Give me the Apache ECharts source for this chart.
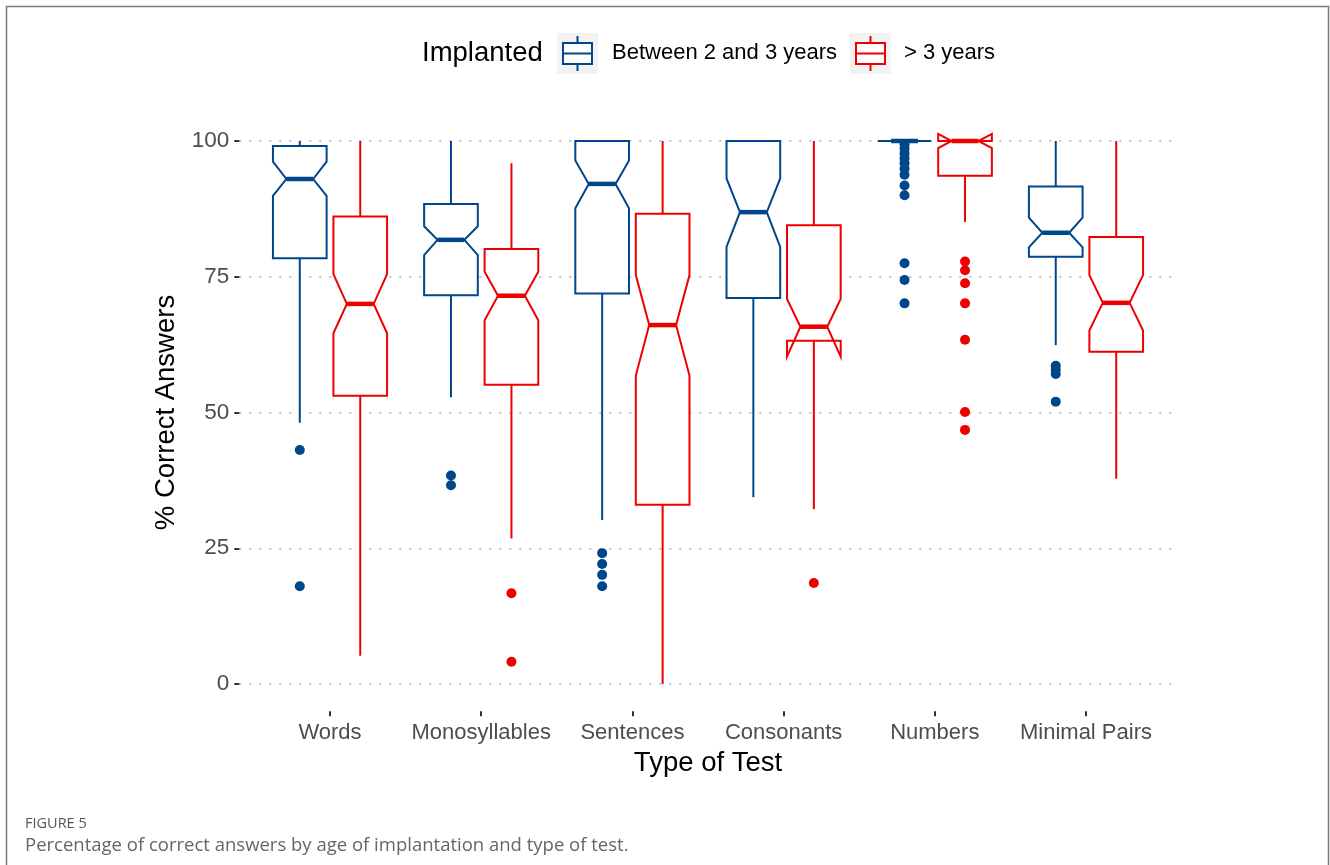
<!DOCTYPE html>
<html>
<head>
<meta charset="utf-8">
<script src="https://cdn.jsdelivr.net/npm/echarts@6/dist/echarts.min.js"></script>
<style>
  html, body { margin: 0; padding: 0; background: #ffffff; }
  #chart { width: 1330px; height: 865px; }
</style>
</head>
<body>
<div id="chart"></div>
<script>
// ---- data ---------------------------------------------------------------
const categories = ['Words', 'Monosyllables', 'Sentences', 'Consonants', 'Numbers', 'Minimal Pairs'];
const groupNames = ['Between 2 and 3 years', '> 3 years'];
const yTicks = [0, 25, 50, 75, 100];

// Implanted between 2 and 3 years
const earlyWhiskerLow  = [48.1, 52.8, 30.2, 34.4, 100, 62.4];
const earlyQ1          = [78.4, 71.6, 71.9, 71.1, 100, 78.7];
const earlyMedian      = [93.0, 81.8, 92.1, 86.9, 100, 83.1];
const earlyQ3          = [99.1, 88.4, 100, 100, 100, 91.6];
const earlyWhiskerHigh = [100, 100, 100, 100, 100, 100];
const earlyNotchLow    = [89.9, 79.0, 87.6, 80.5, 100, 80.4];
const earlyNotchHigh   = [96.2, 84.3, 96.4, 93.1, 100, 85.9];
const earlyOutliers = [
  [43.1, 18.0],
  [38.4, 36.6],
  [24.1, 22.1, 20.1, 18.0],
  [],
  [99.4, 98.6, 97.7, 96.8, 95.9, 94.9, 93.8, 91.8, 90.0, 77.5, 74.4, 70.1],
  [58.6, 57.9, 57.1, 52.0]
];

// Implanted after 3 years
const lateWhiskerLow  = [5.2, 26.8, 0, 32.2, 85.1, 37.8];
const lateQ1          = [53.1, 55.1, 33.0, 63.2, 93.6, 61.2];
const lateMedian      = [70.0, 71.5, 66.1, 65.8, 100, 70.2];
const lateQ3          = [86.1, 80.1, 86.6, 84.5, 100, 82.3];
const lateWhiskerHigh = [100, 95.9, 100, 100, 100, 100];
const lateNotchLow    = [64.6, 67.0, 56.8, 60.3, 98.7, 65.1];
const lateNotchHigh   = [75.5, 75.9, 75.3, 70.9, 101.3, 75.3];
const lateOutliers = [
  [],
  [16.7, 4.1],
  [],
  [18.6],
  [77.8, 76.2, 73.8, 70.1, 63.4, 50.1, 46.8],
  []
];

// ---- drawing settings ---------------------------------------------------
const BLUE = '#00468B';
const RED = '#ED0000';
const DODGE = 0.2;        // horizontal shift of each group from the category centre
const BOX_WIDTH = 0.355;  // box width in category units
const NOTCH_INSET = 0.25; // notch depth as a share of box width (each side)
const FONT = '"Liberation Sans", Arial, sans-serif';
const CAPTION_FONT = '"Open Sans", sans-serif';

function boxRows(wl, q1, med, q3, wh, nl, nh) {
  return categories.map((c, i) => [i + 1, wl[i], q1[i], med[i], q3[i], wh[i], nl[i], nh[i]]);
}

function outlierPoints(list, offset) {
  const pts = [];
  list.forEach((vals, i) => vals.forEach(v => pts.push([i + 1 + offset, v])));
  return pts;
}

function notchedBox(offset, color) {
  return function (params, api) {
    const x = api.value(0) + offset;
    const wl = api.value(1), q1 = api.value(2), med = api.value(3), q3 = api.value(4);
    const wh = api.value(5), nl = api.value(6), nh = api.value(7);
    const L = api.coord([x - BOX_WIDTH / 2, 0])[0];
    const R = api.coord([x + BOX_WIDTH / 2, 0])[0];
    const C = api.coord([x, 0])[0];
    const inset = (R - L) * NOTCH_INSET;
    const y = v => api.coord([x, v])[1];
    const line = { stroke: color, lineWidth: 2 };
    const children = [];
    if (wh > q3) children.push({ type: 'line', shape: { x1: C, y1: y(q3), x2: C, y2: y(wh) }, style: line });
    if (wl < q1) children.push({ type: 'line', shape: { x1: C, y1: y(q1), x2: C, y2: y(wl) }, style: line });
    children.push({
      type: 'polygon',
      shape: {
        points: [
          [L, y(q3)], [L, y(nh)], [L + inset, y(med)], [L, y(nl)], [L, y(q1)],
          [R, y(q1)], [R, y(nl)], [R - inset, y(med)], [R, y(nh)], [R, y(q3)]
        ]
      },
      style: { fill: '#ffffff', stroke: color, lineWidth: 2, lineJoin: 'miter' }
    });
    children.push({
      type: 'line',
      shape: { x1: L + inset, y1: y(med), x2: R - inset, y2: y(med) },
      style: { stroke: color, lineWidth: 4.5 }
    });
    return { type: 'group', children };
  };
}

// ---- legend & frame graphics -------------------------------------------
function legendKey(x, color) {
  const cx = x + 20.5;
  return [
    { type: 'rect', shape: { x: x, y: 33, width: 41, height: 41 }, style: { fill: '#f2f2f2' } },
    { type: 'line', shape: { x1: cx, y1: 36, x2: cx, y2: 43 }, style: { stroke: color, lineWidth: 2 } },
    { type: 'line', shape: { x1: cx, y1: 64, x2: cx, y2: 71 }, style: { stroke: color, lineWidth: 2 } },
    { type: 'rect', shape: { x: x + 6, y: 43, width: 29, height: 21 }, style: { fill: '#ffffff', stroke: color, lineWidth: 2 } },
    { type: 'line', shape: { x1: x + 6, y1: 53.5, x2: x + 35, y2: 53.5 }, style: { stroke: color, lineWidth: 2 } }
  ];
}

const chart = echarts.init(document.getElementById('chart'), null, { renderer: 'canvas' });

chart.setOption({
  backgroundColor: '#ffffff',
  animation: false,
  // panel spans x 0.4..6.6 and y -5..105 (data range plus padding)
  grid: { left: 239.3, right: 153.3, top: 113.85, bottom: 153.85, containLabel: false },
  xAxis: {
    type: 'value',
    min: 0.4,
    max: 6.6,
    name: 'Type of Test',
    nameLocation: 'middle',
    nameGap: 37,
    nameTextStyle: { fontSize: 27.5, color: '#000000', fontFamily: FONT },
    axisLine: { show: false, onZero: false },
    splitLine: { show: false },
    axisTick: { show: true, length: 5, customValues: [1, 2, 3, 4, 5, 6], lineStyle: { color: '#333333', width: 2 } },
    axisLabel: {
      customValues: [1, 2, 3, 4, 5, 6],
      formatter: v => categories[Math.round(v) - 1] || '',
      fontSize: 22, color: '#4d4d4d', fontFamily: FONT, margin: 11
    }
  },
  yAxis: {
    type: 'value',
    min: -5,
    max: 105,
    name: '% Correct Answers',
    nameLocation: 'middle',
    nameRotate: 90,
    nameGap: 56,
    nameTextStyle: { fontSize: 27.5, color: '#000000', fontFamily: FONT },
    axisLine: { show: false, onZero: false },
    axisTick: { show: true, length: 5, customValues: yTicks, lineStyle: { color: '#333333', width: 2 } },
    axisLabel: {
      customValues: yTicks,
      fontSize: 22.5, color: '#4d4d4d', fontFamily: FONT, margin: 10
    },
    splitLine: { show: true, lineStyle: { type: [2, 8], color: '#c4c4c4', width: 2 } }
  },
  series: [
    {
      name: groupNames[0],
      type: 'custom',
      clip: false,
      renderItem: notchedBox(-DODGE, BLUE),
      encode: { x: 0, y: [1, 2, 3, 4, 5, 6, 7] },
      data: boxRows(earlyWhiskerLow, earlyQ1, earlyMedian, earlyQ3, earlyWhiskerHigh, earlyNotchLow, earlyNotchHigh),
      z: 2
    },
    {
      name: groupNames[1],
      type: 'custom',
      clip: false,
      renderItem: notchedBox(DODGE, RED),
      encode: { x: 0, y: [1, 2, 3, 4, 5, 6, 7] },
      data: boxRows(lateWhiskerLow, lateQ1, lateMedian, lateQ3, lateWhiskerHigh, lateNotchLow, lateNotchHigh),
      z: 2
    },
    {
      name: groupNames[0] + ' outliers',
      type: 'scatter',
      symbol: 'circle',
      symbolSize: 10,
      itemStyle: { color: BLUE, opacity: 1 },
      data: outlierPoints(earlyOutliers, -DODGE),
      z: 3
    },
    {
      name: groupNames[1] + ' outliers',
      type: 'scatter',
      symbol: 'circle',
      symbolSize: 10,
      itemStyle: { color: RED, opacity: 1 },
      data: outlierPoints(lateOutliers, DODGE),
      z: 3
    }
  ],
  graphic: [
    {
      type: 'polyline',
      shape: { points: [[6.5, 865], [6.5, 6.5], [1328.5, 6.5], [1328.5, 865]] },
      style: { stroke: '#7a7a7a', lineWidth: 1.5, fill: null },
      silent: true
    },
    { type: 'text', x: 422, y: 53, style: { text: 'Implanted', fontSize: 27.5, fill: '#000000', fontFamily: FONT, verticalAlign: 'middle' } },
    ...legendKey(557, BLUE),
    { type: 'text', x: 612, y: 53, style: { text: groupNames[0], fontSize: 22, fill: '#000000', fontFamily: FONT, verticalAlign: 'middle' } },
    ...legendKey(850, RED),
    { type: 'text', x: 904, y: 53, style: { text: groupNames[1], fontSize: 22, fill: '#000000', fontFamily: FONT, verticalAlign: 'middle' } },
    { type: 'text', x: 25, y: 824, style: { text: 'FIGURE 5', fontSize: 14.5, fill: '#555555', fontFamily: CAPTION_FONT, verticalAlign: 'middle' } },
    { type: 'text', x: 25, y: 846, style: { text: 'Percentage of correct answers by age of implantation and type of test.', fontSize: 18.5, fill: '#666666', fontFamily: CAPTION_FONT, verticalAlign: 'middle' } }
  ]
});
</script>
</body>
</html>
